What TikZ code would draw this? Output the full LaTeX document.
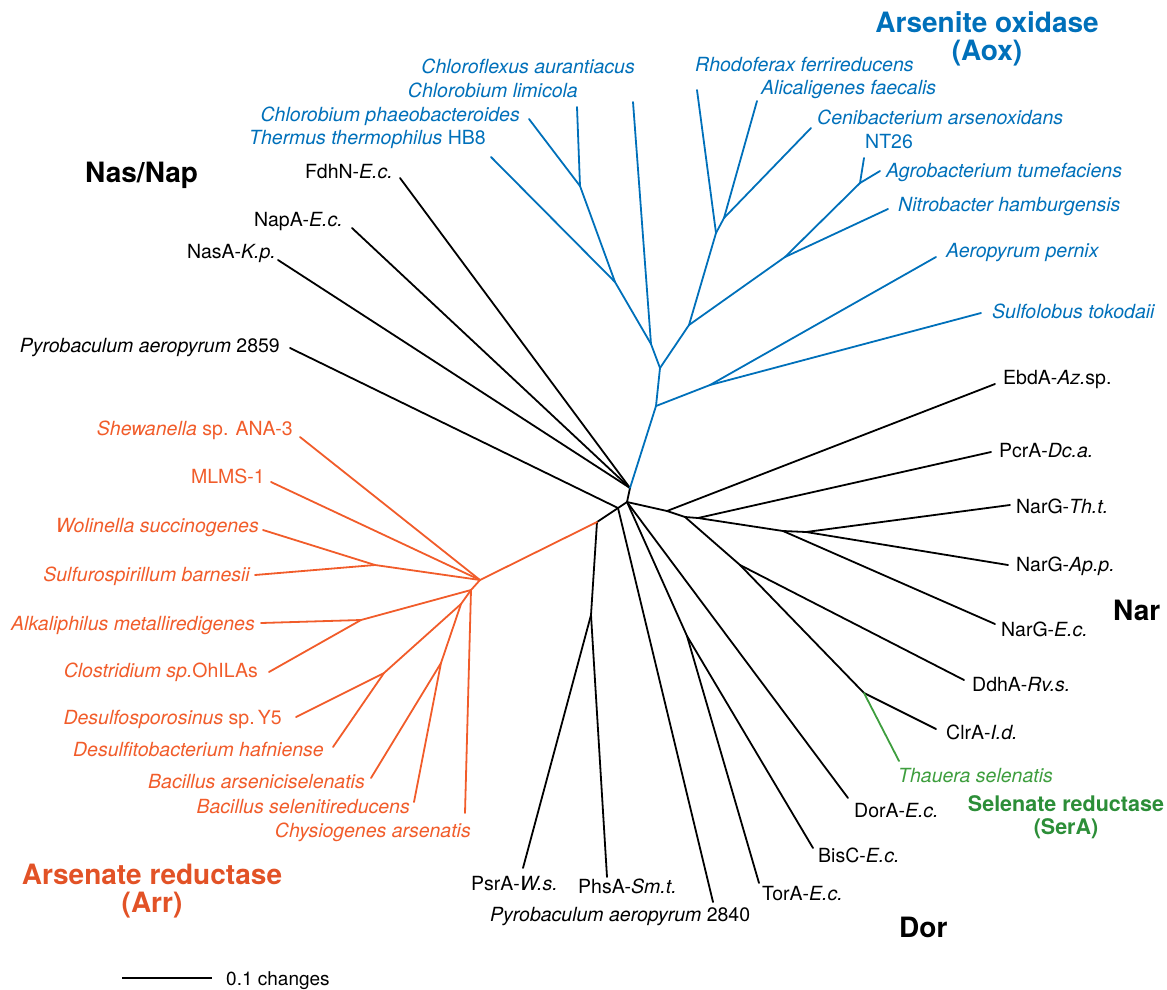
\documentclass[tikz,border=0pt]{standalone}
\usepackage{fontspec}
\setmainfont{TeX Gyre Heros}
\definecolor{aox}{RGB}{0,112,186}
\definecolor{arr}{RGB}{241,92,42}
\definecolor{arrt}{RGB}{226,82,38}
\definecolor{ser}{RGB}{62,158,62}
\definecolor{sert}{RGB}{44,142,56}
\begin{document}
\begin{tikzpicture}[x=1pt,y=-1pt,
  br/.style={line width=1.8pt,line cap=round,line join=round},
  lab/.style={inner sep=0pt,font=\fontsize{19.5}{22}\selectfont},
  lw/.style={lab,anchor=base west},
  le/.style={lab,anchor=base east},
  ttl/.style={inner sep=0pt,anchor=base,font=\fontsize{28}{30}\selectfont\bfseries},
  sttl/.style={inner sep=0pt,anchor=base,font=\fontsize{21.5}{23}\selectfont\bfseries}]
\useasboundingbox (0,0) rectangle (1167,990);

% ---------- internal nodes ----------
\coordinate (R0) at (630,488);
\coordinate (D) at (627,502);
\coordinate (P) at (618,508);
\coordinate (Q) at (597,522);
\coordinate (PP) at (591,615);
\coordinate (TB) at (687,636);
\coordinate (N1) at (667,511);
\coordinate (N2) at (685,517);
\coordinate (N2b) at (698,518);
\coordinate (N3) at (783,531);
\coordinate (N4) at (806,532);
\coordinate (N5) at (740,565);
\coordinate (N6) at (864,693);
% blue
\coordinate (B1) at (656,406);
\coordinate (B2) at (710,385);
\coordinate (B3) at (660,368);
\coordinate (B4) at (651,344);
\coordinate (B5) at (689,325);
\coordinate (B6) at (615,282);
\coordinate (B7) at (580,186);
\coordinate (B8) at (716,233);
\coordinate (B9) at (785,257);
\coordinate (B10) at (724,218);
\coordinate (B11) at (860,183);
% orange
\coordinate (O1) at (480,580);
\coordinate (O2) at (375,565);
\coordinate (O3) at (471,590);
\coordinate (O4) at (361,620);
\coordinate (O5) at (461,604);
\coordinate (O6) at (441,663);
\coordinate (O7) at (384,673);

% ---------- leaf ends ----------
\coordinate (lChl) at (633,102);
\coordinate (lLim) at (577,107);
\coordinate (lPha) at (529,119);
\coordinate (lThe) at (491,157);
\coordinate (lRho) at (697,90);
\coordinate (lAli) at (757,101);
\coordinate (lCen) at (811,128);
\coordinate (lNT) at (864,158);
\coordinate (lAgr) at (880,171);
\coordinate (lNit) at (888,209);
\coordinate (lAer) at (936,257);
\coordinate (lSul) at (981,313);

\coordinate (lFdh) at (400,178);
\coordinate (lNap) at (352,228);
\coordinate (lNas) at (278,260);
\coordinate (lP59) at (290,348);

\coordinate (lEbd) at (995,384);
\coordinate (lPcr) at (991,452);
\coordinate (lNTh) at (1010,505);
\coordinate (lNAp) at (1008,565);
\coordinate (lNEc) at (995,624);
\coordinate (lDdh) at (964,680);
\coordinate (lClr) at (936,729);
\coordinate (lTha) at (899,761);
\coordinate (lDor) at (848,798);
\coordinate (lBis) at (813,848);
\coordinate (lTor) at (759,883);
\coordinate (lP40) at (713,902);
\coordinate (lPhs) at (607,877);
\coordinate (lPsr) at (523,868);

\coordinate (lShe) at (300,437);
\coordinate (lMLM) at (271,482);
\coordinate (lWol) at (263,530);
\coordinate (lSfb) at (255,575);
\coordinate (lAlk) at (261,623);
\coordinate (lClo) at (269,672);
\coordinate (lDsp) at (296,717);
\coordinate (lDsf) at (333,747);
\coordinate (lBar) at (371,778);
\coordinate (lBse) at (414,802);
\coordinate (lChy) at (465,813);

% ---------- branches ----------
\begin{scope}[br, black]
\draw (R0) -- (lFdh);
\draw (R0) -- (lNap);
\draw (R0) -- (lNas);
\draw (R0) -- (D);
\draw (D) -- (P);
\draw (P) -- (lP59);
\draw (P) -- (Q);
\draw (P) -- (lP40);
\draw (Q) -- (PP);
\draw (PP) -- (lPsr);
\draw (PP) -- (lPhs);
\draw (D) -- (N1);
\draw (N1) -- (lEbd);
\draw (N1) -- (N2);
\draw (N2) -- (N2b);
\draw (N2b) -- (lPcr);
\draw (N2b) -- (N3);
\draw (N3) -- (lNEc);
\draw (N3) -- (N4);
\draw (N4) -- (lNTh);
\draw (N4) -- (lNAp);
\draw (N2) -- (N5);
\draw (N5) -- (lDdh);
\draw (N5) -- (N6);
\draw (N6) -- (lClr);
\draw (D) -- (lDor);
\draw (D) -- (TB);
\draw (TB) -- (lBis);
\draw (TB) -- (lTor);
\end{scope}
\draw[br, ser] (N6) -- (lTha);
\begin{scope}[br, aox]
\draw (R0) -- (B1);
\draw (B1) -- (B2);
\draw (B2) -- (lAer);
\draw (B2) -- (lSul);
\draw (B1) -- (B3);
\draw (B3) -- (B4);
\draw (B4) -- (lChl);
\draw (B4) -- (B6);
\draw (B6) -- (lThe);
\draw (B6) -- (B7);
\draw (B7) -- (lLim);
\draw (B7) -- (lPha);
\draw (B3) -- (B5);
\draw (B5) -- (B8);
\draw (B8) -- (lRho);
\draw (B8) -- (B10);
\draw (B10) -- (lAli);
\draw (B10) -- (lCen);
\draw (B5) -- (B9);
\draw (B9) -- (lNit);
\draw (B9) -- (B11);
\draw (B11) -- (lNT);
\draw (B11) -- (lAgr);
\end{scope}
\begin{scope}[br, arr]
\draw (Q) -- (O1);
\draw (O1) -- (lShe);
\draw (O1) -- (lMLM);
\draw (O1) -- (O2);
\draw (O2) -- (lWol);
\draw (O2) -- (lSfb);
\draw (O1) -- (O3);
\draw (O3) -- (lChy);
\draw (O3) -- (O4);
\draw (O4) -- (lAlk);
\draw (O4) -- (lClo);
\draw (O3) -- (O5);
\draw (O5) -- (O7);
\draw (O7) -- (lDsp);
\draw (O7) -- (lDsf);
\draw (O5) -- (O6);
\draw (O6) -- (lBar);
\draw (O6) -- (lBse);
\end{scope}

% ---------- labels: Aox (blue) ----------
\begin{scope}[text=aox]
\node[le] (tChl) at (635,74) {\itshape Chloroflexus aurantiacus};
\node[le] (tLim) at (578,97) {\itshape Chlorobium limicola};
\node[le] (tPha) at (520,121) {\itshape Chlorobium phaeobacteroides};
\node[le] (tThe) at (486,144) {\textit{Thermus thermophilus} HB8};
\node[lw] (tRho) at (695,71) {\itshape Rhodoferax ferrireducens};
\node[lw] (tAli) at (761,95) {\itshape Alicaligenes faecalis};
\node[lw] (tCen) at (817,124) {\itshape Cenibacterium arsenoxidans};
\node[lw] (tNT) at (865,148) {NT26};
\node[lw] (tAgr) at (886,177) {\itshape Agrobacterium tumefaciens};
\node[lw] (tNit) at (898,211) {\itshape Nitrobacter hamburgensis};
\node[lw] (tAer) at (946,257) {\itshape Aeropyrum pernix};
\node[lw] (tSul) at (992,318) {\itshape Sulfolobus tokodaii};
\node[ttl] (hAox1) at (987,33) {Arsenite oxidase};
\node[ttl] (hAox2) at (987,60) {(Aox)};
\end{scope}

% ---------- labels: black ----------
\node[le] (tFdh) at (393,178) {FdhN-\textit{E.c.}};
\node[le] (tNap) at (343,226) {NapA-\textit{E.c.}};
\node[le] (tNas) at (276,258) {NasA-\textit{K.p.}};
\node[le] (tP59) at (280,352) {\textit{Pyrobaculum aeropyrum} 2859};
\node[ttl,anchor=base west] (hNas) at (85,182) {Nas/Nap};

\node[lw] (tEbd) at (1003,384) {EbdA-\textit{Az.}sp.};
\node[lw] (tPcr) at (999,457) {PcrA-\textit{Dc.a.}};
\node[lw] (tNTh) at (1016,513) {NarG-\textit{Th.t.}};
\node[lw] (tNAp) at (1016,571) {NarG-\textit{Ap.p.}};
\node[lw] (tNEc) at (1001,636) {NarG-\textit{E.c.}};
\node[lw] (tDdh) at (972,691) {DdhA-\textit{Rv.s.}};
\node[lw] (tClr) at (946,739) {ClrA-\textit{I.d.}};
\node[lw] (tDor) at (854,817) {DorA-\textit{E.c.}};
\node[lw] (tBis) at (818,862) {BisC-\textit{E.c.}};
\node[lw] (tTor) at (762,900) {TorA-\textit{E.c.}};
\node[lw] (tPsr) at (471,890) {PsrA-\textit{W.s.}};
\node[lw] (tPhs) at (578,893) {PhsA-\textit{Sm.t.}};
\node[lw] (tP40) at (490,921) {\textit{Pyrobaculum aeropyrum} 2840};
\node[ttl,anchor=base west] (hNar) at (1113,620) {Nar};
\node[ttl,anchor=base west] (hDor) at (899,937) {Dor};

% ---------- labels: green ----------
\node[lw,text=ser] (tTha) at (898,782) {\itshape Thauera selenatis};
\node[sttl,text=sert] (hSer1) at (1066,811) {Selenate reductase};
\node[sttl,text=sert] (hSer2) at (1066,834) {(SerA)};

% ---------- labels: orange ----------
\begin{scope}[text=arr]
\node[le] (tShe) at (293,435) {\textit{Shewanella} sp. ANA-3};
\node[le] (tMLM) at (265,483) {MLMS-1};
\node[le] (tWol) at (259,532) {\itshape Wolinella succinogenes};
\node[le] (tSfb) at (250,581) {\itshape Sulfurospirillum barnesii};
\node[le] (tAlk) at (255,630) {\itshape Alkaliphilus metalliredigenes};
\node[le] (tClo) at (258,677) {\textit{Clostridium sp.}OhILAs};
\node[le] (tDsp) at (282,724) {\textit{Desulfosporosinus} sp.\,Y5};
\node[le] (tDsf) at (324,756) {\itshape Desulfitobacterium hafniense};
\node[le] (tBar) at (365,788) {\itshape Bacillus arseniciselenatis};
\node[le] (tBse) at (410,813) {\itshape Bacillus selenitireducens};
\node[le] (tChy) at (471,837) {\itshape Chysiogenes arsenatis};
\end{scope}
\node[ttl,text=arrt] (hArr1) at (152,884) {Arsenate reductase};
\node[ttl,text=arrt] (hArr2) at (152,912) {(Arr)};

% ---------- scale bar ----------
\coordinate (sb1) at (122,978);
\coordinate (sb2) at (212,978);
\draw[line width=1.8pt] (sb1) -- (sb2);
\node[inner sep=0pt,anchor=base west,font=\fontsize{19}{21}\selectfont] (tsb) at (226,985) {0.1 changes};
\end{tikzpicture}
\end{document}
